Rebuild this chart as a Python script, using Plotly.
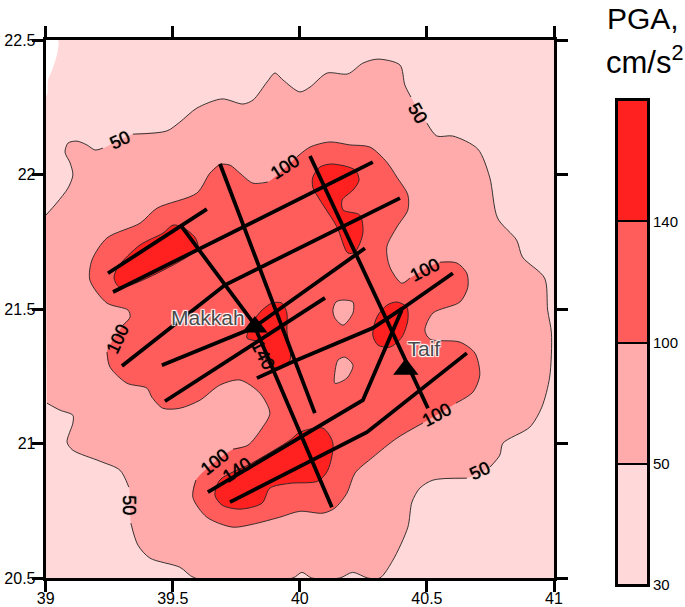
import plotly.graph_objects as go

FONT = "Liberation Sans"
C30, C50, C100, C140 = "#FFD9D9", "#FFABAB", "#FF5C5C", "#FF2020"
N = None

# contour of 50 cm/s2 (None marks a break in the line, where a label sits)
c50_lon = [39.001,39.043,39.088,39.107,39.096,39.076,39.088,39.123,39.162,39.194,39.225,N,39.343,39.477,39.528,39.595,39.694,39.776,39.816,39.871,39.902,39.934,40.000,40.040,40.107,40.189,40.248,40.307,40.394,40.413,40.437,N,40.500,40.539,40.602,40.700,40.747,40.778,40.853,40.876,40.963,40.975,40.990,40.983,40.952,40.905,40.799,40.787,40.748,N,40.657,40.524,40.472,40.441,40.425,40.366,40.315,40.267,40.208,40.157,40.047,40.008,39.972,39.587,39.528,39.410,39.363,39.335,N,39.327,39.292,39.214,39.107,39.084,39.107,39.107,39.056,39.005]
c50_lat = [21.849,21.894,21.950,21.998,22.043,22.083,22.117,22.124,22.110,22.091,22.098,N,22.150,22.162,22.195,22.247,22.281,22.262,22.277,22.344,22.377,22.351,22.307,22.325,22.377,22.374,22.414,22.429,22.407,22.333,22.288,N,22.191,22.143,22.143,22.095,21.990,21.838,21.756,21.693,21.615,21.496,21.410,21.247,21.135,21.061,21.001,20.957,20.912,N,20.871,20.864,20.834,20.782,20.689,20.566,20.500,20.500,20.521,20.500,20.500,20.521,20.500,20.500,20.540,20.574,20.622,20.704,N,20.838,20.901,20.934,20.975,21.005,21.076,21.105,21.124,21.150]

# contour of 100 cm/s2
c100_lon = [39.686,39.725,39.764,39.815,39.874,N,39.988,40.040,40.118,40.197,40.276,40.342,40.382,40.425,40.425,40.382,40.342,40.354,40.401,40.433,N,40.551,40.618,40.657,40.661,40.630,40.524,40.492,40.512,40.630,40.689,40.708,40.681,40.614,N,40.484,40.382,40.287,40.217,40.185,40.138,40.091,40.000,39.921,39.815,39.736,39.634,39.579,39.591,N,39.737,39.796,39.851,39.882,39.843,39.764,39.685,39.607,39.528,39.461,39.418,39.398,39.320,39.253,39.241,N,39.304,39.332,39.324,39.241,39.174,39.182,39.241,39.371,39.438,39.595,39.646,39.686]
c100_lat = [22.039,22.035,22.005,21.968,21.972,N,22.065,22.102,22.121,22.110,22.102,22.046,21.990,21.924,21.868,21.805,21.730,21.656,21.596,21.615,N,21.674,21.671,21.633,21.581,21.526,21.485,21.421,21.388,21.377,21.336,21.254,21.191,21.150,N,21.076,21.020,20.949,20.890,20.815,20.760,20.741,20.748,20.726,20.700,20.689,20.726,20.800,20.864,N,20.979,20.994,21.057,21.113,21.187,21.236,21.217,21.161,21.131,21.131,21.172,21.206,21.224,21.284,21.340,N,21.440,21.470,21.496,21.522,21.607,21.682,21.764,21.819,21.875,21.931,22.005,22.039]

# islands below 100 cm/s2
hole1_lon = [40.165,40.209,40.209,40.170,40.138,40.130,40.142,40.165]
hole1_lat = [21.533,21.526,21.485,21.440,21.466,21.496,21.526,21.533]
hole2_lon = [40.177,40.209,40.185,40.138,40.138,40.150,40.177]
hole2_lat = [21.321,21.291,21.243,21.224,21.265,21.310,21.321]

# contours of 140 cm/s2
c140a_lon = [39.501,39.536,39.587,39.599,39.556,39.292,39.269,39.284,39.371,39.461,39.501]
c140a_lat = [21.812,21.805,21.767,21.730,21.693,21.581,21.615,21.656,21.738,21.782,21.812]
c140b_lon = [40.079,40.126,40.217,40.233,40.209,40.166,40.170,40.236,40.248,40.217,40.189,40.146,40.079,40.051,40.051,40.079]
c140b_lat = [22.028,22.039,22.017,21.979,21.942,21.905,21.868,21.849,21.782,21.712,21.708,21.805,21.905,21.953,21.990,22.028]
c140c_lon = [39.890,39.929,39.949,39.949,39.961,39.914,39.871,39.851,39.792,39.804,39.843,39.890]
c140c_lat = [21.522,21.522,21.485,21.421,21.310,21.280,21.302,21.373,21.392,21.433,21.488,21.522]
c140d_lon = [40.342,40.382,40.421,40.425,40.401,40.354,40.307,40.287,40.303,40.342]
c140d_lat = [21.514,21.526,21.507,21.459,21.395,21.358,21.366,21.403,21.470,21.514]
c140e_lon = [40.000,40.091,40.130,40.110,40.071,39.961,39.882,39.851,39.764,39.694,39.666,39.685,39.811,39.961,40.000]
c140e_lat = [21.042,21.057,21.001,20.901,20.860,20.852,20.834,20.778,20.756,20.771,20.808,20.864,20.927,21.012,21.042]

# unmapped corner
blank_lon = [39.0,39.048,39.044,39.025,39.009,39.005,39.0]
blank_lat = [22.5,22.5,22.444,22.388,22.351,22.295,22.295]

# fault lines
faults = [
    ([39.245,39.634], [21.633,21.871]),
    ([39.265,40.287], [21.563,22.046]),
    ([39.300,39.705,40.394], [21.288,21.589,21.912]),
    ([39.457,39.815,40.256], [21.291,21.429,21.726]),
    ([39.469,40.099], [21.157,21.541]),
    ([39.831,39.961,40.287,40.405,40.602], [21.243,21.299,21.429,21.503,21.633]),
    ([39.638,40.012,40.248,40.401], [20.819,21.031,21.161,21.496]),
    ([39.725,40.264,40.657], [20.782,21.042,21.336]),
    ([39.686,40.059], [22.039,21.113]),
    ([39.536,39.705,39.815,40.126], [21.805,21.589,21.451,20.763]),
    ([40.040,40.504], [22.069,21.131]),
]

city_names = ["Makkah", "Taif"]
city_lon = [39.823, 40.417]
city_lat = [21.433, 21.276]
city_label_lon = [39.638, 40.488]
city_label_lat = [21.459, 21.343]

label_text = ["50","100","50","100","100","50","100","50","100","140","140"]
label_lon = [39.292,39.941,40.464,40.491,39.284,39.327,40.538,40.707,39.666,39.753,39.855]
label_lat = [22.128,22.028,22.229,21.645,21.388,20.771,21.105,20.897,20.931,20.901,21.329]
label_angle = [-25,-33,60,-27,-65,90,-28,-25,-38,-33,62]

x_ticks = [39, 39.5, 40, 40.5, 41]
x_tick_text = ["39", "39.5", "40", "40.5", "41"]
y_ticks = [20.5, 21, 21.5, 22, 22.5]
y_tick_text = ["20.5", "21", "21.5", "22", "22.5"]

bar_levels = ["30", "50", "100", "140"]
bar_heights = [1, 1, 1, 1]
bar_colors = [C30, C50, C100, C140]


def area(lon, lat, color):
    lon2 = [v for v in lon if v is not None]
    lat2 = [v for v in lat if v is not None]
    return go.Scatter(x=lon2, y=lat2, mode="lines", fill="toself", fillcolor=color,
                      line=dict(width=0, color=color, shape="spline", smoothing=0.8),
                      hoverinfo="skip", showlegend=False)


def contour(lon, lat):
    return go.Scatter(x=lon, y=lat, mode="lines",
                      line=dict(width=0.9, color="#222", shape="spline", smoothing=0.8),
                      hoverinfo="skip", showlegend=False)


fig = go.Figure()
fig.add_trace(area(c50_lon, c50_lat, C50))
fig.add_trace(contour(c50_lon, c50_lat))
fig.add_trace(area(blank_lon, blank_lat, "#FFFFFF"))
fig.add_trace(area(c100_lon, c100_lat, C100))
fig.add_trace(contour(c100_lon, c100_lat))
for lo, la in [(hole1_lon, hole1_lat), (hole2_lon, hole2_lat)]:
    fig.add_trace(area(lo, la, C50))
    fig.add_trace(contour(lo, la))
for lo, la in [(c140a_lon, c140a_lat), (c140b_lon, c140b_lat), (c140c_lon, c140c_lat),
               (c140d_lon, c140d_lat), (c140e_lon, c140e_lat)]:
    fig.add_trace(area(lo, la, C140))
    fig.add_trace(contour(lo, la))
for lo, la in faults:
    fig.add_trace(go.Scatter(x=lo, y=la, mode="lines",
                             line=dict(width=3.8, color="black"),
                             hoverinfo="skip", showlegend=False))
fig.add_trace(go.Scatter(x=city_lon, y=city_lat, mode="markers",
                         marker=dict(symbol="triangle-up", size=22, color="black"),
                         hoverinfo="skip", showlegend=False))
fig.add_trace(go.Scatter(x=city_label_lon, y=city_label_lat, mode="text", text=city_names,
                         textfont=dict(family=FONT, size=21, color="#4a4a4a",
                                       shadow="1px 1px 1px #fff, -1px -1px 1px #fff, 1px -1px 1px #fff, -1px 1px 1px #fff"),
                         hoverinfo="skip", showlegend=False))

for name, h, col in zip(bar_levels, bar_heights, bar_colors):
    fig.add_trace(go.Bar(x=[0], y=[h], marker=dict(color=col, line=dict(color="black", width=2)),
                         width=1, xaxis="x2", yaxis="y2", name=name, showlegend=False, hoverinfo="skip"))

annotations = [dict(x=x, y=y, text=t, textangle=a, showarrow=False, xref="x", yref="y",
                    font=dict(family=FONT, size=18, color="black", shadow="0 0 1px #000"))
               for t, x, y, a in zip(label_text, label_lon, label_lat, label_angle)]
annotations += [
    dict(x=642.5/685, y=1-18/607, text="PGA,", showarrow=False, xref="paper", yref="paper",
         xanchor="center", yanchor="middle", font=dict(family=FONT, size=30, color="black")),
    dict(x=645/685, y=1-60/607, text="cm/s<sup>2</sup>", showarrow=False, xref="paper", yref="paper",
         xanchor="center", yanchor="middle", font=dict(family=FONT, size=31, color="black")),
]

W, H = 685, 607
axis_style = dict(showgrid=False, zeroline=False, showline=True, linecolor="black", linewidth=3,
                  ticks="outside", ticklen=11, tickwidth=3, tickcolor="black", mirror="allticks",
                  automargin=False,
                  tickfont=dict(family=FONT, size=16, color="black"))
fig.update_layout(
    width=W, height=H, margin=dict(l=0, r=0, t=0, b=0, autoexpand=False), paper_bgcolor="white", plot_bgcolor=C30,
    barmode="stack", showlegend=False, annotations=annotations,
    xaxis=dict(range=[39, 41], domain=[45.7/W, 554/W], tickvals=x_ticks, ticktext=x_tick_text,
               ticklabelstandoff=-7, **axis_style),
    yaxis=dict(range=[20.5, 22.5], domain=[(H-578)/H, (H-40)/H], tickvals=y_ticks, ticktext=y_tick_text,
               ticklabelstandoff=-7, **axis_style),
    xaxis2=dict(range=[-0.5, 0.5], domain=[617/W, 648/W], anchor="y2", showticklabels=False, ticks="",
                showgrid=False, zeroline=False, showline=True, mirror=True, linecolor="black", linewidth=2),
    yaxis2=dict(range=[0, 4], domain=[(H-585)/H, (H-100)/H], anchor="x2", side="right",
                tickvals=[0, 1, 2, 3], ticktext=bar_levels, ticks="", showgrid=False, zeroline=False,
                showline=True, mirror=True, linecolor="black", linewidth=2,
                tickfont=dict(family=FONT, size=15, color="black")),
)
fig.write_html("out.html", post_script="document.body.style.margin='0';",
               config={"displayModeBar": False})
